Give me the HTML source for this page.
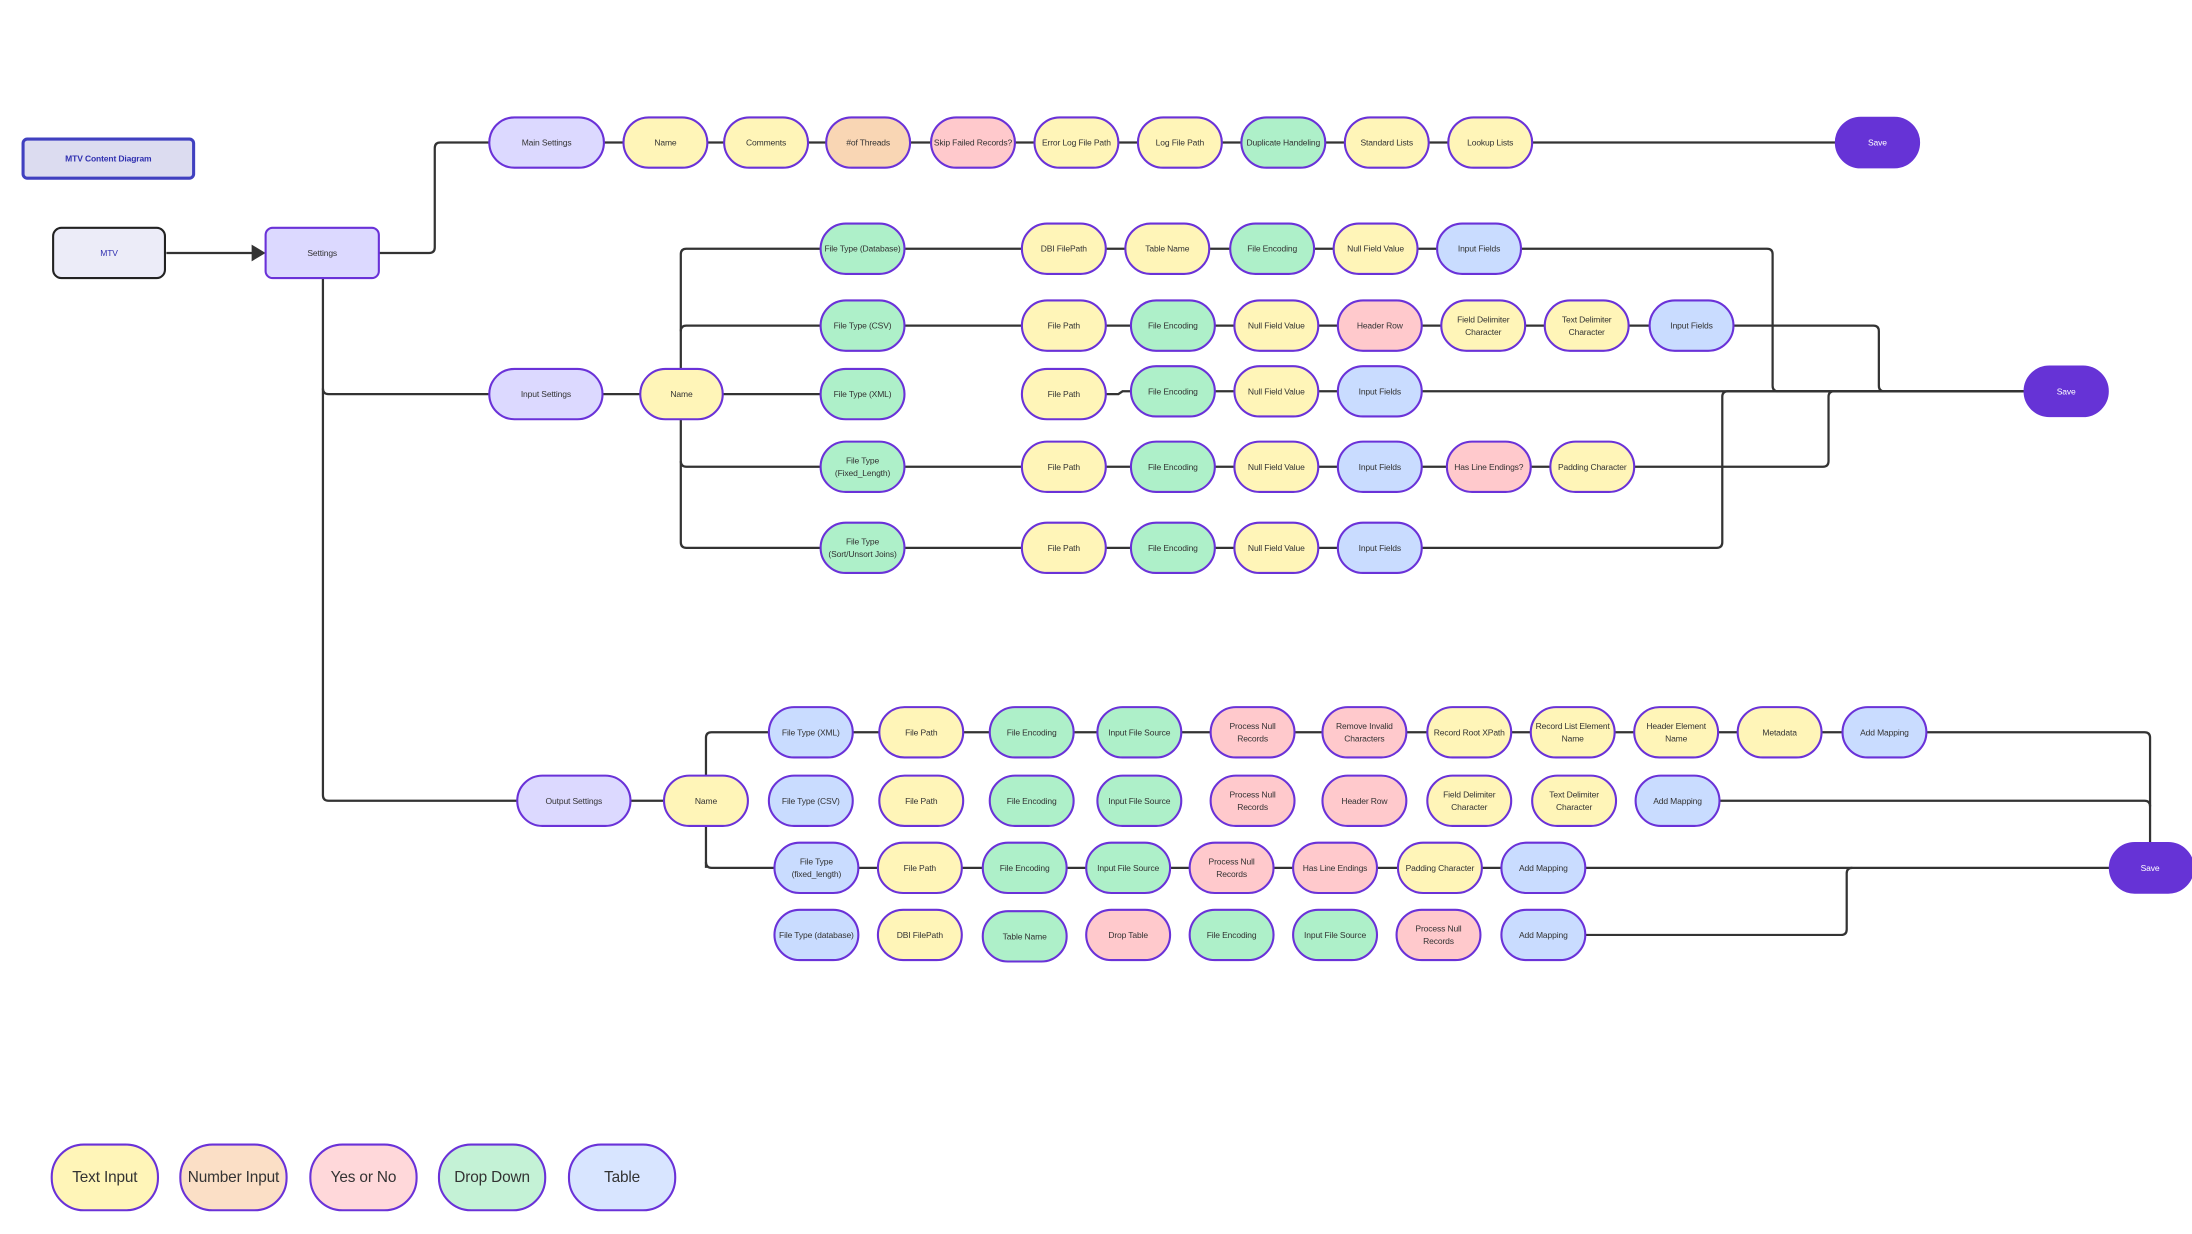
<!DOCTYPE html>
<html><head><meta charset="utf-8"><style>
html,body{margin:0;padding:0;background:#fff;width:2192px;height:1234px;overflow:hidden}
svg{display:block}
text{font-family:"Liberation Sans Narrow","Liberation Sans",sans-serif;font-size:6.1px;letter-spacing:-0.1px;fill:#333;text-anchor:middle;dominant-baseline:central}
.n{stroke:#6a32d8;stroke-width:1.5}
.y{fill:#fff5b8}.o{fill:#f9d6b4}.p{fill:#ffc9cc}.g{fill:#aef0c9}.b{fill:#c9dcff}.l{fill:#dcd9ff}
.s{fill:#6633d6;stroke:#6633d6}
.w{fill:none;stroke:#333;stroke-width:1.6}
</style></head><body>
<svg width="2192" height="1234" viewBox="0 0 1568 883" preserveAspectRatio="none">
<g class="w">
<path d="M119 181 H182"/>
<path d="M271 181 H307 Q311 181 311 177 V106 Q311 102 315 102 H1313"/>
<path d="M231 199 V569 Q231 573 235 573 H535"/>
<path d="M231 278 Q231 282 235 282 H587"/>
<path d="M487 282 V182 Q487 178 491 178 H1264 Q1268 178 1268 182 V276 Q1268 280 1272 280 H1448"/>
<path d="M487 237 Q487 233 491 233 H1340 Q1344 233 1344 237 V276 Q1344 280 1348 280"/>
<path d="M487 282 V388 Q487 392 491 392 H1228 Q1232 392 1232 388 V284 Q1232 280 1236 280 H1448"/>
<path d="M487 330 Q487 334 491 334 H1304 Q1308 334 1308 330 V284 Q1308 280 1312 280"/>
<path d="M791 282 H800 L803 280 H1448"/>
<path d="M505 621 V528 Q505 524 509 524 H1534 Q1538 524 1538 528 V603"/>
<path d="M505 617 Q505 621 509 621 H1509"/>
<path d="M1230 573 H1534 Q1538 573 1538 577"/>
<path d="M1134 669 H1317 Q1321 669 1321 665 V625 Q1321 621 1325 621"/>
</g>
<polygon points="180,175 190,181 180,187" fill="#333"/>

<rect x="16.5" y="99.5" width="122" height="28" rx="3" fill="#dcdcf0" stroke="#4040c0" stroke-width="2.2"/>
<text x="77.5" y="113.5" style="fill:#3030b0;font-weight:bold">MTV Content Diagram</text>
<rect x="38" y="163" width="80" height="36" rx="6" fill="#ececf8" stroke="#222" stroke-width="1.5"/>
<text x="78" y="181" style="fill:#3030b0">MTV</text>
<rect x="190" y="163" width="81" height="36" rx="5" class="n l"/>
<text x="230.5" y="181">Settings</text>

<rect x="350" y="84" width="82" height="36" rx="18" class="n l"/><text x="391" y="102">Main Settings</text>
<rect x="446" y="84" width="60" height="36" rx="18" class="n y"/><text x="476" y="102">Name</text>
<rect x="518" y="84" width="60" height="36" rx="18" class="n y"/><text x="548" y="102">Comments</text>
<rect x="591" y="84" width="60" height="36" rx="18" class="n o"/><text x="621" y="102">#of Threads</text>
<rect x="666" y="84" width="60" height="36" rx="18" class="n p"/><text x="696" y="102">Skip Failed Records?</text>
<rect x="740" y="84" width="60" height="36" rx="18" class="n y"/><text x="770" y="102">Error Log File Path</text>
<rect x="814" y="84" width="60" height="36" rx="18" class="n y"/><text x="844" y="102">Log File Path</text>
<rect x="888" y="84" width="60" height="36" rx="18" class="n g"/><text x="918" y="102">Duplicate Handeling</text>
<rect x="962" y="84" width="60" height="36" rx="18" class="n y"/><text x="992" y="102">Standard Lists</text>
<rect x="1036" y="84" width="60" height="36" rx="18" class="n y"/><text x="1066" y="102">Lookup Lists</text>
<rect x="1313" y="84" width="60" height="36" rx="18" class="s"/><text x="1343" y="102" style="fill:#fff">Save</text>

<rect x="350" y="264" width="81" height="36" rx="18" class="n l"/><text x="390.5" y="282">Input Settings</text>
<rect x="458" y="264" width="59" height="36" rx="18" class="n y"/><text x="487.5" y="282">Name</text>

<rect x="587" y="160" width="60" height="36" rx="18" class="n g"/><text x="617" y="178">File Type (Database)</text>
<rect x="731" y="160" width="60" height="36" rx="18" class="n y"/><text x="761" y="178">DBI FilePath</text>
<rect x="805" y="160" width="60" height="36" rx="18" class="n y"/><text x="835" y="178">Table Name</text>
<rect x="880" y="160" width="60" height="36" rx="18" class="n g"/><text x="910" y="178">File Encoding</text>
<rect x="954" y="160" width="60" height="36" rx="18" class="n y"/><text x="984" y="178">Null Field Value</text>
<rect x="1028" y="160" width="60" height="36" rx="18" class="n b"/><text x="1058" y="178">Input Fields</text>

<rect x="587" y="215" width="60" height="36" rx="18" class="n g"/><text x="617" y="233">File Type (CSV)</text>
<rect x="731" y="215" width="60" height="36" rx="18" class="n y"/><text x="761" y="233">File Path</text>
<rect x="809" y="215" width="60" height="36" rx="18" class="n g"/><text x="839" y="233">File Encoding</text>
<rect x="883" y="215" width="60" height="36" rx="18" class="n y"/><text x="913" y="233">Null Field Value</text>
<rect x="957" y="215" width="60" height="36" rx="18" class="n p"/><text x="987" y="233">Header Row</text>
<rect x="1031" y="215" width="60" height="36" rx="18" class="n y"/><text x="1061" y="228.5">Field Delimiter</text><text x="1061" y="237.5">Character</text>
<rect x="1105" y="215" width="60" height="36" rx="18" class="n y"/><text x="1135" y="228.5">Text Delimiter</text><text x="1135" y="237.5">Character</text>
<rect x="1180" y="215" width="60" height="36" rx="18" class="n b"/><text x="1210" y="233">Input Fields</text>

<rect x="587" y="264" width="60" height="36" rx="18" class="n g"/><text x="617" y="282">File Type (XML)</text>
<rect x="731" y="264" width="60" height="36" rx="18" class="n y"/><text x="761" y="282">File Path</text>
<rect x="809" y="262" width="60" height="36" rx="18" class="n g"/><text x="839" y="280">File Encoding</text>
<rect x="883" y="262" width="60" height="36" rx="18" class="n y"/><text x="913" y="280">Null Field Value</text>
<rect x="957" y="262" width="60" height="36" rx="18" class="n b"/><text x="987" y="280">Input Fields</text>

<rect x="587" y="316" width="60" height="36" rx="18" class="n g"/><text x="617" y="329.5">File Type</text><text x="617" y="338.5">(Fixed_Length)</text>
<rect x="731" y="316" width="60" height="36" rx="18" class="n y"/><text x="761" y="334">File Path</text>
<rect x="809" y="316" width="60" height="36" rx="18" class="n g"/><text x="839" y="334">File Encoding</text>
<rect x="883" y="316" width="60" height="36" rx="18" class="n y"/><text x="913" y="334">Null Field Value</text>
<rect x="957" y="316" width="60" height="36" rx="18" class="n b"/><text x="987" y="334">Input Fields</text>
<rect x="1035" y="316" width="60" height="36" rx="18" class="n p"/><text x="1065" y="334">Has Line Endings?</text>
<rect x="1109" y="316" width="60" height="36" rx="18" class="n y"/><text x="1139" y="334">Padding Character</text>

<rect x="587" y="374" width="60" height="36" rx="18" class="n g"/><text x="617" y="387.5">File Type</text><text x="617" y="396.5">(Sort/Unsort Joins)</text>
<rect x="731" y="374" width="60" height="36" rx="18" class="n y"/><text x="761" y="392">File Path</text>
<rect x="809" y="374" width="60" height="36" rx="18" class="n g"/><text x="839" y="392">File Encoding</text>
<rect x="883" y="374" width="60" height="36" rx="18" class="n y"/><text x="913" y="392">Null Field Value</text>
<rect x="957" y="374" width="60" height="36" rx="18" class="n b"/><text x="987" y="392">Input Fields</text>

<rect x="1448" y="262" width="60" height="36" rx="18" class="s"/><text x="1478" y="280" style="fill:#fff">Save</text>

<rect x="370" y="555" width="81" height="36" rx="18" class="n l"/><text x="410.5" y="573">Output Settings</text>
<rect x="475" y="555" width="60" height="36" rx="18" class="n y"/><text x="505" y="573">Name</text>

<rect x="550" y="506" width="60" height="36" rx="18" class="n b"/><text x="580" y="524">File Type (XML)</text>
<rect x="629" y="506" width="60" height="36" rx="18" class="n y"/><text x="659" y="524">File Path</text>
<rect x="708" y="506" width="60" height="36" rx="18" class="n g"/><text x="738" y="524">File Encoding</text>
<rect x="785" y="506" width="60" height="36" rx="18" class="n g"/><text x="815" y="524">Input File Source</text>
<rect x="866" y="506" width="60" height="36" rx="18" class="n p"/><text x="896" y="519.5">Process Null</text><text x="896" y="528.5">Records</text>
<rect x="946" y="506" width="60" height="36" rx="18" class="n p"/><text x="976" y="519.5">Remove Invalid</text><text x="976" y="528.5">Characters</text>
<rect x="1021" y="506" width="60" height="36" rx="18" class="n y"/><text x="1051" y="524">Record Root XPath</text>
<rect x="1095" y="506" width="60" height="36" rx="18" class="n y"/><text x="1125" y="519.5">Record List Element</text><text x="1125" y="528.5">Name</text>
<rect x="1169" y="506" width="60" height="36" rx="18" class="n y"/><text x="1199" y="519.5">Header Element</text><text x="1199" y="528.5">Name</text>
<rect x="1243" y="506" width="60" height="36" rx="18" class="n y"/><text x="1273" y="524">Metadata</text>
<rect x="1318" y="506" width="60" height="36" rx="18" class="n b"/><text x="1348" y="524">Add Mapping</text>

<rect x="550" y="555" width="60" height="36" rx="18" class="n b"/><text x="580" y="573">File Type (CSV)</text>
<rect x="629" y="555" width="60" height="36" rx="18" class="n y"/><text x="659" y="573">File Path</text>
<rect x="708" y="555" width="60" height="36" rx="18" class="n g"/><text x="738" y="573">File Encoding</text>
<rect x="785" y="555" width="60" height="36" rx="18" class="n g"/><text x="815" y="573">Input File Source</text>
<rect x="866" y="555" width="60" height="36" rx="18" class="n p"/><text x="896" y="568.5">Process Null</text><text x="896" y="577.5">Records</text>
<rect x="946" y="555" width="60" height="36" rx="18" class="n p"/><text x="976" y="573">Header Row</text>
<rect x="1021" y="555" width="60" height="36" rx="18" class="n y"/><text x="1051" y="568.5">Field Delimiter</text><text x="1051" y="577.5">Character</text>
<rect x="1096" y="555" width="60" height="36" rx="18" class="n y"/><text x="1126" y="568.5">Text Delimiter</text><text x="1126" y="577.5">Character</text>
<rect x="1170" y="555" width="60" height="36" rx="18" class="n b"/><text x="1200" y="573">Add Mapping</text>

<rect x="554" y="603" width="60" height="36" rx="18" class="n b"/><text x="584" y="616.5">File Type</text><text x="584" y="625.5">(fixed_length)</text>
<rect x="628" y="603" width="60" height="36" rx="18" class="n y"/><text x="658" y="621">File Path</text>
<rect x="703" y="603" width="60" height="36" rx="18" class="n g"/><text x="733" y="621">File Encoding</text>
<rect x="777" y="603" width="60" height="36" rx="18" class="n g"/><text x="807" y="621">Input File Source</text>
<rect x="851" y="603" width="60" height="36" rx="18" class="n p"/><text x="881" y="616.5">Process Null</text><text x="881" y="625.5">Records</text>
<rect x="925" y="603" width="60" height="36" rx="18" class="n p"/><text x="955" y="621">Has Line Endings</text>
<rect x="1000" y="603" width="60" height="36" rx="18" class="n y"/><text x="1030" y="621">Padding Character</text>
<rect x="1074" y="603" width="60" height="36" rx="18" class="n b"/><text x="1104" y="621">Add Mapping</text>

<rect x="554" y="651" width="60" height="36" rx="18" class="n b"/><text x="584" y="669">File Type (database)</text>
<rect x="628" y="651" width="60" height="36" rx="18" class="n y"/><text x="658" y="669">DBI FilePath</text>
<rect x="703" y="652" width="60" height="36" rx="18" class="n g"/><text x="733" y="670">Table Name</text>
<rect x="777" y="651" width="60" height="36" rx="18" class="n p"/><text x="807" y="669">Drop Table</text>
<rect x="851" y="651" width="60" height="36" rx="18" class="n g"/><text x="881" y="669">File Encoding</text>
<rect x="925" y="651" width="60" height="36" rx="18" class="n g"/><text x="955" y="669">Input File Source</text>
<rect x="999" y="651" width="60" height="36" rx="18" class="n p"/><text x="1029" y="664.5">Process Null</text><text x="1029" y="673.5">Records</text>
<rect x="1074" y="651" width="60" height="36" rx="18" class="n b"/><text x="1104" y="669">Add Mapping</text>

<rect x="1509" y="603" width="60" height="36" rx="18" class="s"/><text x="1538" y="621" style="fill:#fff">Save</text>

<rect x="37" y="819" width="76" height="47" rx="23" class="n y"/><text x="75" y="842.5" style="font-size:11px">Text Input</text>
<rect x="129" y="819" width="76" height="47" rx="23" class="n" fill="#fbdfc6"/><text x="167" y="842.5" style="font-size:11px">Number Input</text>
<rect x="222" y="819" width="76" height="47" rx="23" class="n" fill="#ffd8da"/><text x="260" y="842.5" style="font-size:11px">Yes or No</text>
<rect x="314" y="819" width="76" height="47" rx="23" class="n" fill="#c4f2d6"/><text x="352" y="842.5" style="font-size:11px">Drop Down</text>
<rect x="407" y="819" width="76" height="47" rx="23" class="n" fill="#d8e5ff"/><text x="445" y="842.5" style="font-size:11px">Table</text>
</svg>
</body></html>
